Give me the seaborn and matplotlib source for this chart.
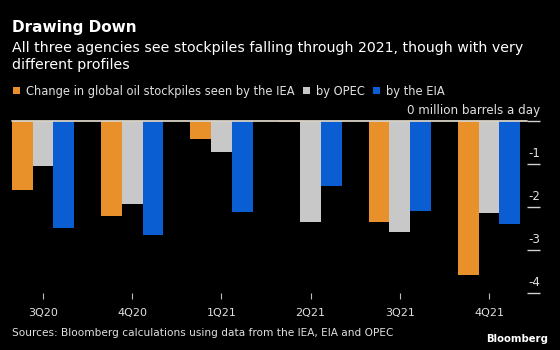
import matplotlib
matplotlib.use("Agg")
import matplotlib.pyplot as plt
import matplotlib.transforms as mtransforms
import seaborn as sns
import pandas as pd

quarters = ["3Q20", "4Q20", "1Q21", "2Q21", "3Q21", "4Q21"]
series_names = ["Change in global oil stockpiles seen by the IEA", "by OPEC", "by the EIA"]
iea = [-1.60, -2.21, -0.42, -0.02, -2.35, -3.57]
opec = [-1.04, -1.92, -0.73, -2.36, -2.59, -2.15]
eia = [-2.49, -2.65, -2.12, -1.50, -2.09, -2.40]
yticks = [0, -1, -2, -3, -4]
ytick_labels = ["0 million barrels a day", "-1", "-2", "-3", "-4"]
colors = ["#e8912b", "#c8c8c8", "#0b5dd2"]

title = "Drawing Down"
subtitle1 = "All three agencies see stockpiles falling through 2021, though with very"
subtitle2 = "different profiles"
source = "Sources: Bloomberg calculations using data from the IEA, EIA and OPEC"

rows = []
for name, vals in zip(series_names, [iea, opec, eia]):
    for q, v in zip(quarters, vals):
        rows.append({"quarter": q, "series": name, "value": v})
df = pd.DataFrame(rows)

sns.set_theme(style="dark")
plt.rcParams["font.family"] = ["DejaVu Sans"]

W, H = 560, 350
fig = plt.figure(figsize=(5.6, 3.5), dpi=100, facecolor="black")
ax = fig.add_axes([12 / W, 1 - 293 / H, (527 - 12) / W, (293 - 121) / H])
ax.set_facecolor("black")

sns.barplot(data=df, x="quarter", y="value", hue="series", order=quarters,
            hue_order=series_names, palette=colors, width=0.7, gap=0,
            saturation=1, ax=ax, legend=True, linewidth=0)

ax.set_xlim(-0.348, 5.426)
ax.set_ylim(-4, 0)
for s in ax.spines.values():
    s.set_visible(False)
ax.grid(False)
ax.axhline(0, color="#d8d2c4", lw=1.3, clip_on=False, zorder=5)
ax.set_xlabel("")
ax.set_ylabel("")

ax.yaxis.tick_right()
ax.set_yticks(yticks)
ax.set_yticklabels(ytick_labels)
ax.tick_params(axis="y", which="major", direction="out", length=9.4, width=1.0,
               color="#d0d0d0", pad=0, labelsize=8.6, labelcolor="#e0e0e0",
               right=True, left=False)
shift = mtransforms.ScaledTranslation(0, 4 / 100, fig.dpi_scale_trans)
for lab in ax.get_yticklabels():
    lab.set_horizontalalignment("right")
    lab.set_verticalalignment("bottom")
    lab.set_transform(lab.get_transform() + shift)

ax.tick_params(axis="x", which="major", direction="out", length=4.0, width=0.8,
               color="#bdbdbd", pad=6.5, labelsize=8.0, labelcolor="#e0e0e0",
               bottom=True)

handles, labels = ax.get_legend_handles_labels()
ax.get_legend().remove()
fig.legend(handles, labels, loc="center left",
           bbox_to_anchor=(13 / W, 1 - 91 / H), ncol=3, frameon=False,
           fontsize=8.3, handlelength=0.6, handleheight=0.6,
           handletextpad=0.55, columnspacing=0.7, borderpad=0,
           borderaxespad=0, labelcolor="#e0e0e0")

fig.text(12 / W, 1 - 32 / H, title, color="white", fontsize=11.0,
         fontweight="bold", va="baseline", ha="left")
fig.text(12 / W, 1 - 52 / H, subtitle1, color="white", fontsize=10.2,
         va="baseline", ha="left")
fig.text(12 / W, 1 - 69 / H, subtitle2, color="white", fontsize=10.2,
         va="baseline", ha="left")
fig.text(12 / W, 1 - 333 / H, source, color="#e0e0e0", fontsize=7.6,
         va="center", ha="left")
fig.text(548 / W, 1 - 339 / H, "Bloomberg", color="white", fontsize=7.3,
         fontweight="bold", va="center", ha="right")

fig.savefig("out.png", dpi=100, facecolor="black")
